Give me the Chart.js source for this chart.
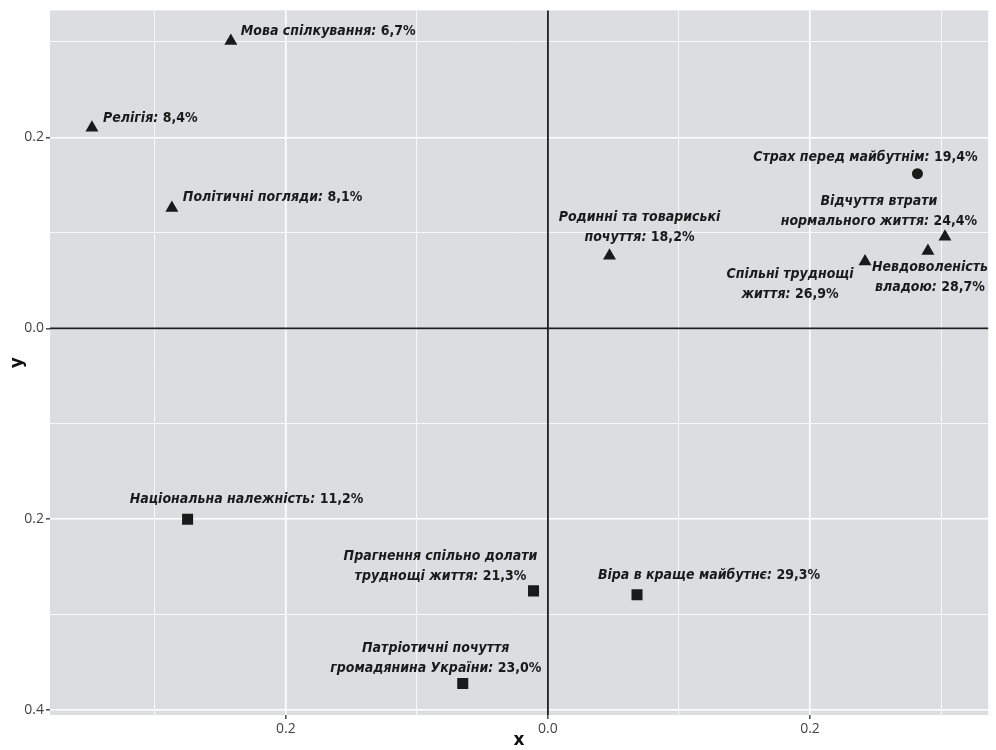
<!DOCTYPE html>
<html>
<head>
<meta charset="utf-8">
<script src="https://cdn.jsdelivr.net/npm/chart.js@4/dist/chart.umd.min.js"></script>
<style>
  html, body { margin: 0; padding: 0; background: #ffffff; }
  #wrap { width: 996px; height: 750px; position: relative; }
</style>
</head>
<body>
<div id="wrap"><canvas id="chart"></canvas></div>
<script>
// ── Data ──────────────────────────────────────────────────────────────────
const names = [
  "Мова спілкування",
  "Релігія",
  "Політичні погляди",
  "Родинні та товариські\nпочуття",
  "Страх перед майбутнім",
  "Відчуття втрати\nнормального життя",
  "Невдоволеність\nвладою",
  "Спільні труднощі\nжиття",
  "Національна належність",
  "Прагнення спільно долати\nтруднощі життя",
  "Віра в краще майбутнє",
  "Патріотичні почуття\nгромадянина України",
];
const shares = ["6,7%", "8,4%", "8,1%", "18,2%", "19,4%", "24,4%", "28,7%", "26,9%", "11,2%", "21,3%", "29,3%", "23,0%"];
const xValues = [-0.242, -0.348, -0.287, 0.047, 0.282, 0.303, 0.290, 0.242, -0.275, -0.011, 0.068, -0.065];
const yValues = [0.301, 0.210, 0.126, 0.076, 0.162, 0.096, 0.081, 0.070, -0.200, -0.275, -0.279, -0.372];
const groups = ["A", "A", "A", "A", "B", "A", "A", "A", "C", "C", "C", "C"];

const xTickValues = [-0.3, -0.2, -0.1, 0, 0.1, 0.2, 0.3];
const yTickValues = [-0.4, -0.3, -0.2, -0.1, 0, 0.1, 0.2, 0.3];

// label placement relative to the marker: [dx, dy of last line, align]
const labelNudge = [
  [10, -10, "left"], [11, -9, "left"], [11, -11, "left"],
  [30, -18, "center"], [-52, -16, "center"], [-66, -15, "center"],
  [2, 36, "center"], [-75, 33, "center"], [59, -20, "center"],
  [-93, -15, "center"], [72, -19, "center"], [-27, -15, "center"],
];

// ── Styles ────────────────────────────────────────────────────────────────
const groupStyle = {
  A: { pointStyle: "triangle", radius: 7.5 },
  B: { pointStyle: "circle", radius: 5.5 },
  C: { pointStyle: "rect", radius: 7.8 },
};
const panelColor = "#dcdde0";
const labelFamily = "'Liberation Sans Narrow', 'DejaVu Sans Condensed', sans-serif";
const tickFont = { family: "'Open Sans', sans-serif", size: 14 };

const isMajor = (v) => Math.abs(Math.round(v * 10)) % 2 === 0;

const points = xValues.map((x, i) => ({ x, y: yValues[i] }));

const panelPlugin = {
  id: "panelPlugin",
  beforeDraw(chart) {
    const { ctx, chartArea: a } = chart;
    ctx.save();
    ctx.fillStyle = panelColor;
    ctx.fillRect(a.left, a.top, a.right - a.left, a.bottom - a.top);
    ctx.restore();
  },
  beforeDatasetsDraw(chart) {
    const { ctx, chartArea: a, scales } = chart;
    const x0 = scales.x.getPixelForValue(0);
    const y0 = scales.y.getPixelForValue(0);
    ctx.save();
    ctx.strokeStyle = "#1e1e1e";
    ctx.lineWidth = 1.8;
    ctx.beginPath();
    ctx.moveTo(x0, a.top);
    ctx.lineTo(x0, a.bottom);
    ctx.moveTo(a.left, y0);
    ctx.lineTo(a.right, y0);
    ctx.stroke();
    ctx.restore();
  },
};

const labelPlugin = {
  id: "labelPlugin",
  afterDatasetsDraw(chart) {
    const { ctx, scales } = chart;
    const italic = "italic bold 14px " + labelFamily;
    const upright = "bold 14px " + labelFamily;
    const lineGap = 20;
    ctx.save();
    ctx.fillStyle = "#1a1a1a";
    ctx.textBaseline = "middle";
    names.forEach((name, i) => {
      const px = scales.x.getPixelForValue(xValues[i]);
      const py = scales.y.getPixelForValue(yValues[i]);
      const [dx, dy, align] = labelNudge[i];
      const lines = name.split("\n");
      lines.forEach((line, k) => {
        const y = py + dy - (lines.length - 1 - k) * lineGap;
        const last = k === lines.length - 1;
        const head = last ? line + ":" : line;
        const tail = last ? " " + shares[i] : "";
        ctx.font = italic;
        const w1 = ctx.measureText(head).width;
        ctx.font = upright;
        const w2 = ctx.measureText(tail).width;
        let x = px + dx;
        if (align === "center") x -= (w1 + w2) / 2;
        ctx.textAlign = "left";
        ctx.font = italic;
        ctx.fillText(head, x, y);
        if (tail) {
          ctx.font = upright;
          ctx.fillText(tail, x + w1, y);
        }
      });
    });
    ctx.restore();
  },
};

const axisCommon = (values) => ({
  type: "linear",
  afterBuildTicks(scale) {
    scale.ticks = values.map((v) => ({ value: v }));
  },
  border: { display: false },
  grid: {
    color: "#ffffff",
    lineWidth: (c) => (c.tick && isMajor(c.tick.value) ? 1.6 : 0.8),
    tickColor: (c) => (c.tick && isMajor(c.tick.value) ? "#555555" : "rgba(0,0,0,0)"),
    tickLength: 4,
  },
  ticks: {
    autoSkip: false,
    maxRotation: 0,
    color: "#444444",
    font: tickFont,
    padding: 2,
    callback: (v) => (isMajor(v) ? Math.abs(v).toFixed(1) : ""),
  },
  title: {
    display: true,
    color: "#111111",
    font: { family: "'DejaVu Sans', sans-serif", size: 17, weight: "bold" },
  },
});

const xAxis = axisCommon(xTickValues);
xAxis.min = -0.38;
xAxis.max = 0.336;
xAxis.title.text = "x";
xAxis.title.padding = { top: 0, bottom: -1 };
xAxis.afterFit = (scale) => { scale.height = 35; };

const yAxis = axisCommon(yTickValues);
yAxis.min = -0.405;
yAxis.max = 0.333;
yAxis.title.text = "y";
yAxis.title.padding = { top: 7, bottom: 0 };
yAxis.afterFit = (scale) => { scale.width = 50; };

new Chart(document.getElementById("chart"), {
  type: "scatter",
  data: {
    datasets: [
      {
        data: points,
        pointStyle: groups.map((g) => groupStyle[g].pointStyle),
        pointRadius: groups.map((g) => groupStyle[g].radius),
        pointBackgroundColor: "#1a1a1a",
        pointBorderColor: "#1a1a1a",
        pointBorderWidth: 0,
      },
    ],
  },
  options: {
    responsive: true,
    maintainAspectRatio: false,
    animation: false,
    layout: { padding: { top: 6, right: 6, left: 0, bottom: 0 } },
    plugins: {
      legend: { display: false },
      tooltip: { enabled: false },
    },
    scales: { x: xAxis, y: yAxis },
  },
  plugins: [panelPlugin, labelPlugin],
});
</script>
</body>
</html>
